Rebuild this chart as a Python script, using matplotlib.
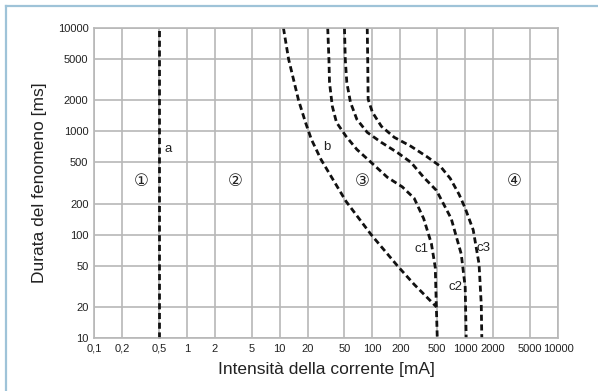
import matplotlib
matplotlib.use("Agg")
import matplotlib.pyplot as plt
from matplotlib.lines import Line2D

plt.rcParams['font.family'] = ['Liberation Sans', 'DejaVu Sans']

# tick positions / labels
x_ticks = [0.1, 0.2, 0.5, 1, 2, 5, 10, 20, 50, 100, 200, 500, 1000, 2000, 5000, 10000]
x_labels = ["0,1", "0,2", "0,5", "1", "2", "5", "10", "20", "50", "100", "200",
            "500", "1000", "2000", "5000", "10000"]
y_ticks = [10, 20, 50, 100, 200, 500, 1000, 2000, 5000, 10000]

# curves (mA, ms)
a_x = [0.5, 0.5]
a_y = [10, 10000]

b_x = [11, 12.5, 16, 19, 22, 28, 37, 52, 97, 186, 282, 490]
b_y = [10000, 5000, 2000, 1222, 836, 532, 350, 210, 100, 50, 33, 20]

c1_x = [33, 34, 34.5, 37, 41, 52, 68, 97, 145, 210, 282, 357, 432, 476, 488, 500]
c1_y = [10000, 5000, 2965, 1745, 1222, 894, 668, 500, 359, 290, 225, 143, 82, 48, 21, 10]

c2_x = [50, 51, 53, 58, 68, 88, 125, 186, 261, 357, 490, 707, 906, 1000, 1025]
c2_y = [10000, 5000, 2965, 1910, 1306, 977, 781, 623, 500, 359, 268, 143, 65, 31, 10]

c3_x = [88, 89, 90, 100, 125, 172, 261, 384, 538, 690, 860, 1000, 1220, 1410, 1490, 1510]
c3_y = [10000, 5000, 2040, 1530, 1118, 875, 715, 571, 460, 350, 245, 180, 111, 52, 21, 10]

# region markers and curve labels
zone_x = [0.32, 3.3, 77, 3370]
zone_y = [330, 330, 330, 330]
zone_txt = ["\u2460", "\u2461", "\u2462", "\u2463"]

curve_lbl = ["a", "b", "c1", "c2", "c3"]
curve_lbl_x = [0.635, 32, 340, 780, 1560]
curve_lbl_y = [680, 710, 73, 31, 75]

fig = plt.figure(figsize=(5.98, 3.91), dpi=100)
ax = fig.add_axes([94/598, 1-338/391, 464/598, 310/391])

ax.set_xscale('log')
ax.set_yscale('log')
ax.set_xlim(0.1, 10000)
ax.set_ylim(10, 10000)
ax.minorticks_off()
ax.set_xticks(x_ticks)
ax.set_xticklabels(x_labels)
ax.set_yticks(y_ticks)
ax.set_yticklabels([str(v) for v in y_ticks])
ax.tick_params(length=0, labelsize=8, pad=4, colors='#222222')
ax.grid(True, color='#b8b8b8', lw=1.2)
for s in ax.spines.values():
    s.set_color('#b8b8b8')
    s.set_linewidth(1.2)

dash = dict(color='#111111', lw=2.0, ls=(0, (2.2, 1.3)))
for xs, ys in [(a_x, a_y), (b_x, b_y), (c1_x, c1_y), (c2_x, c2_y), (c3_x, c3_y)]:
    ax.plot(xs, ys, **dash, clip_on=False)

for t, xv, yv in zip(zone_txt, zone_x, zone_y):
    ax.text(xv, yv, t, ha='center', va='center', fontsize=12, color='#222222',
            family=['DejaVu Sans'])
for t, xv, yv in zip(curve_lbl, curve_lbl_x, curve_lbl_y):
    ax.text(xv, yv, t, ha='center', va='center', fontsize=9.5, color='#222222')

ax.set_xlabel("Intensità della corrente [mA]", fontsize=12.5, color='#222222', labelpad=6)
ax.set_ylabel("Durata del fenomeno [ms]", fontsize=12.5, color='#222222', labelpad=8)

# light blue frame (top and left edges)
fig.add_artist(Line2D([6/598, 1], [1-6/391, 1-6/391], transform=fig.transFigure,
                      color='#9fc3d8', lw=1.6))
fig.add_artist(Line2D([6/598, 6/598], [0, 1-6/391], transform=fig.transFigure,
                      color='#9fc3d8', lw=1.6))

fig.savefig("out.png", dpi=100)
